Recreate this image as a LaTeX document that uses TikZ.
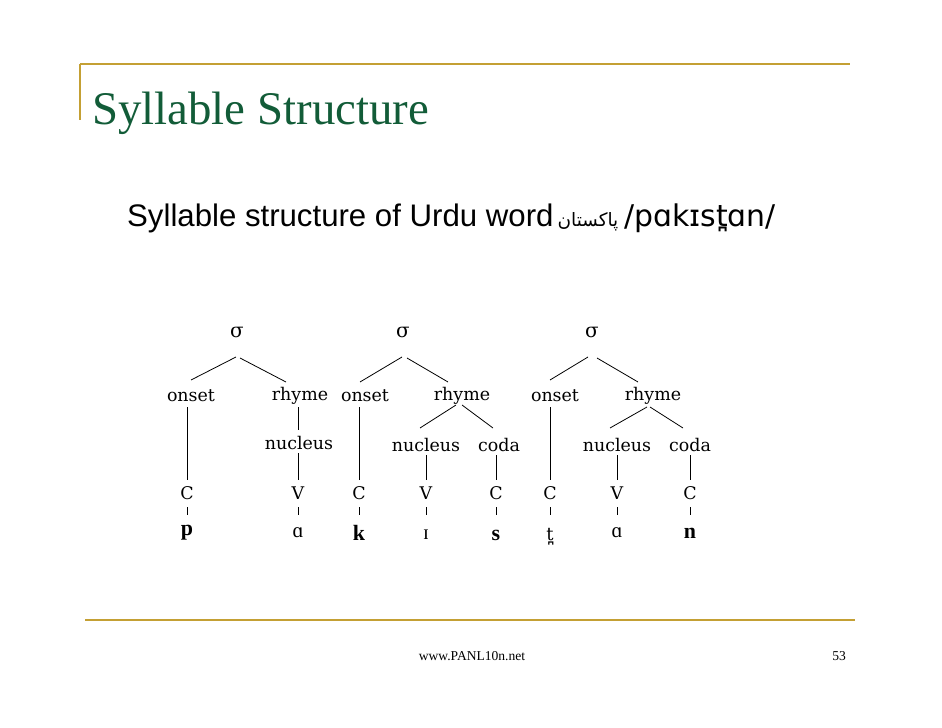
\documentclass[tikz,border=0pt]{standalone}
\usepackage{fontspec}
\usetikzlibrary{calc}
\setmainfont{Liberation Serif}
\newfontfamily\subfont{Liberation Sans}
\newfontfamily\ipafont{DejaVu Sans}
\newfontfamily\treefont{DejaVu Serif}
\newfontfamily\segfont{Liberation Serif}
\newfontfamily\arabicfont[Script=Arabic]{DejaVu Sans}
\TeXXeTstate=1
\definecolor{gold}{RGB}{196,160,52}
\definecolor{titlegreen}{RGB}{18,92,56}
\tikzset{
  lbl/.style={inner sep=0pt, font=\treefont\fontsize{17.5}{19}\selectfont},
  sig/.style={inner sep=0pt, font=\treefont\fontsize{20}{22}\selectfont},
  seg/.style={inner sep=0pt, font=\segfont\bfseries\fontsize{22}{24}\selectfont},
  segr/.style={inner sep=0pt, font=\segfont\fontsize{21}{24}\selectfont},
  segt/.style={inner sep=0pt, font=\treefont\fontsize{18}{24}\selectfont},
  br/.style={line width=0.8pt, black}
}
\begin{document}
\begin{tikzpicture}[x=1bp,y=-1bp]
\useasboundingbox (0,0) rectangle (942,728);
% frame lines
\draw[gold, line width=1.6bp] (80,64) -- (850,64);
\draw[gold, line width=1.4bp] (80,64) -- (80,120);
\draw[gold, line width=1.6bp] (85,620) -- (855,620);
% title
\node[anchor=base west, inner sep=0pt, text=titlegreen, font=\fontsize{47}{52}\selectfont] (title) at (92,125) {Syllable Structure};
% subtitle
\node[anchor=base west, inner sep=0pt, font=\subfont\fontsize{31.3}{34}\selectfont] (sub) at (127,226) {Syllable structure of Urdu word};
\node[anchor=base, inner sep=0pt, font=\arabicfont\fontsize{18.5}{26}\selectfont] (urdu) at (588,226) {\beginR پاکستان\endR};
\node[anchor=base west, inner sep=0pt, font=\ipafont\fontsize{30}{34}\selectfont] (ipa) at (624,226) {/pɑkɪst̪ɑn/};
% footer
\node[anchor=base, inner sep=0pt, font=\fontsize{13.6}{15}\selectfont] (foot) at (472,660) {www.PANL10n.net};
\node[anchor=base east, inner sep=0pt, font=\fontsize{13.6}{15}\selectfont] (page) at (846,660) {53};

% ---- tree 1 ----
\node[sig] (s1) at (237,332) {σ};
\node[lbl] (on1) at (191,396) {onset};
\node[lbl] (rh1) at (300,396) {rhyme};
\node[lbl] (nu1) at (299,443) {nucleus};
\node[lbl] (C1) at (187,493) {C};
\node[lbl] (V1) at (298,493) {V};
\node[seg] (p) at (187,533) {p};
\node[segr] (a1) at (298,533) {ɑ};
% ---- tree 2 ----
\node[sig] (s2) at (403,332) {σ};
\node[lbl] (on2) at (365,396) {onset};
\node[lbl] (rh2) at (462,396) {rhyme};
\node[lbl] (nu2) at (426,445) {nucleus};
\node[lbl] (co2) at (499,445) {coda};
\node[lbl] (C2) at (359,493) {C};
\node[lbl] (V2) at (426,493) {V};
\node[lbl] (C3) at (496,493) {C};
\node[seg] (k) at (359,533) {k};
\node[segr] (i2) at (426,535) {ɪ};
\node[seg] (s) at (496,535) {s};
% ---- tree 3 ----
\node[sig] (s3) at (592,332) {σ};
\node[lbl] (on3) at (555,396) {onset};
\node[lbl] (rh3) at (653,396) {rhyme};
\node[lbl] (nu3) at (617,445) {nucleus};
\node[lbl] (co3) at (690,445) {coda};
\node[lbl] (C4) at (550,493) {C};
\node[lbl] (V3) at (617,493) {V};
\node[lbl] (C5) at (690,493) {C};
\node[segt] (t) at (550,537) {t̪};
\node[segr] (a3) at (617,533) {ɑ};
\node[seg] (n) at (690,533) {n};

% ---- branches tree 1 ----
\draw[br] ($(s1)+(-1,25)$) -- ($(on1)+(0,-16)$);
\draw[br] ($(s1)+(3,26)$) -- ($(rh1)+(-14,-14)$);
\draw[br] ($(on1)+(-4,11)$) -- ($(C1)+(0,-13)$);
\draw[br] ($(rh1)+(-2,11)$) -- ($(nu1)+(-1,-13)$);
\draw[br] ($(nu1)+(-1,10)$) -- ($(V1)+(0,-13)$);
\draw[br] ($(C1)+(0,14)$) -- ($(p)+(0,-18)$);
\draw[br] ($(V1)+(0,14)$) -- ($(a1)+(0,-18)$);
% ---- branches tree 2 ----
\draw[br] ($(s2)+(-1,25)$) -- ($(on2)+(-5,-14)$);
\draw[br] ($(s2)+(4,26)$) -- ($(rh2)+(-14,-14)$);
\draw[br] ($(on2)+(-6,11)$) -- ($(C2)+(0,-13)$);
\draw[br] ($(rh2)+(-6,9)$) -- ($(nu2)+(-6,-17)$);
\draw[br] ($(rh2)+(0,9)$) -- ($(co2)+(-6,-17)$);
\draw[br] ($(nu2)+(0,10)$) -- ($(V2)+(0,-13)$);
\draw[br] ($(co2)+(-3,10)$) -- ($(C3)+(0,-13)$);
\draw[br] ($(C2)+(0,14)$) -- ($(k)+(0,-18)$);
\draw[br] ($(V2)+(0,14)$) -- ($(i2)+(0,-20)$);
\draw[br] ($(C3)+(0,14)$) -- ($(s)+(0,-20)$);
% ---- branches tree 3 ----
\draw[br] ($(s3)+(-4,25)$) -- ($(on3)+(-5,-16)$);
\draw[br] ($(s3)+(5,26)$) -- ($(rh3)+(-15,-14)$);
\draw[br] ($(on3)+(-5,11)$) -- ($(C4)+(0,-13)$);
\draw[br] ($(rh3)+(-6,11)$) -- ($(nu3)+(-7,-17)$);
\draw[br] ($(rh3)+(-3,11)$) -- ($(co3)+(-7,-17)$);
\draw[br] ($(nu3)+(0,10)$) -- ($(V3)+(0,-13)$);
\draw[br] ($(co3)+(0,10)$) -- ($(C5)+(0,-13)$);
\draw[br] ($(C4)+(0,14)$) -- ($(t)+(0,-22)$);
\draw[br] ($(V3)+(0,14)$) -- ($(a3)+(0,-18)$);
\draw[br] ($(C5)+(0,14)$) -- ($(n)+(0,-18)$);
\end{tikzpicture}
\end{document}
